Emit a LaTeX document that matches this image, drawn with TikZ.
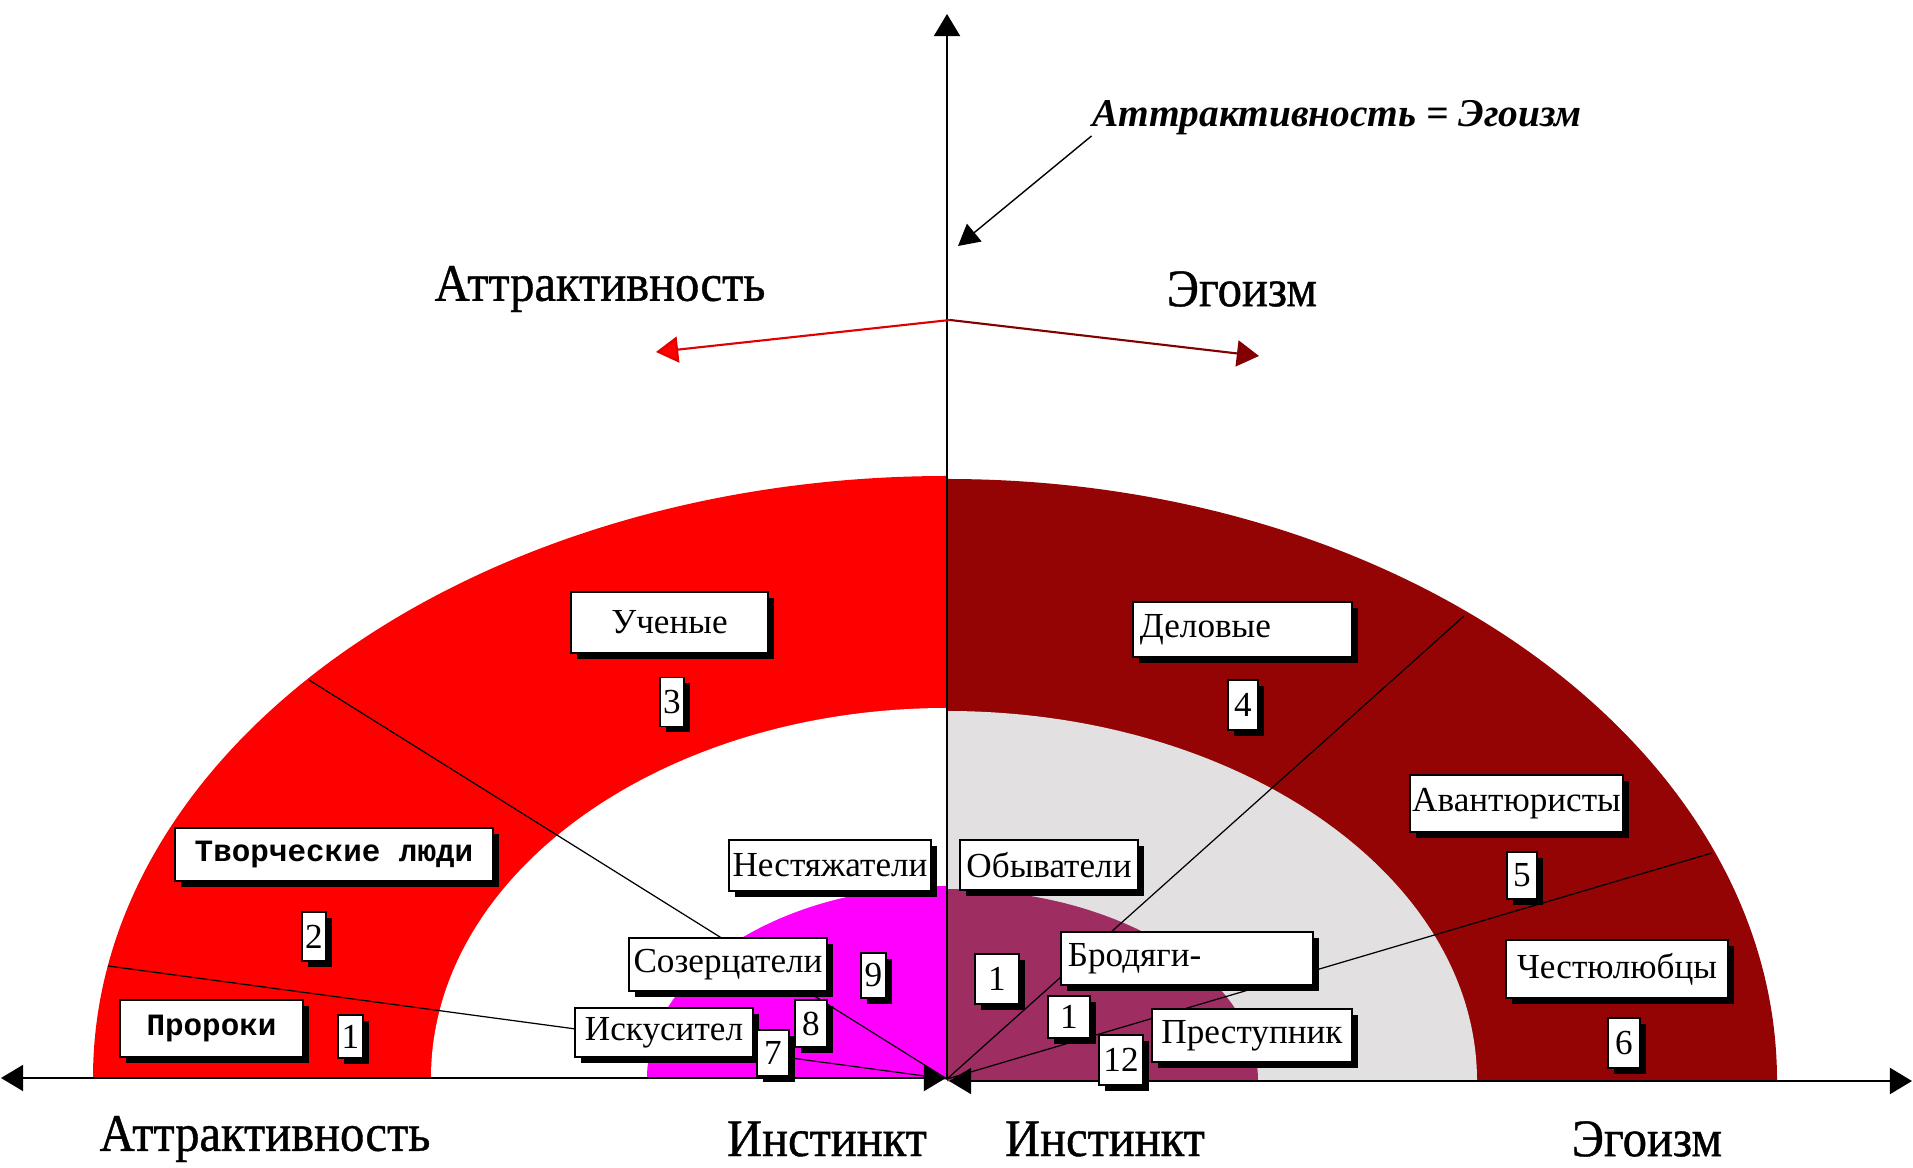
\documentclass[tikz,border=0pt]{standalone}
\usepackage{fontspec}
\setmainfont{Liberation Serif}
\setmonofont{Liberation Mono}
\newfontfamily\axisfont{Liberation Serif}[FakeStretch=0.92, FakeBold=0.8]
\usetikzlibrary{arrows.meta,shadows}

\definecolor{sectred}{RGB}{255,0,0}
\definecolor{sectdark}{RGB}{148,4,4}
\definecolor{sectgrey}{RGB}{226,224,224}
\definecolor{sectmag}{RGB}{255,0,255}
\definecolor{sectplum}{RGB}{158,45,98}
\definecolor{arrred}{RGB}{225,0,0}
\definecolor{arrdark}{RGB}{130,0,0}

\tikzset{
  tag/.style={draw=black, fill=white, line width=0.4pt, inner sep=0pt,
    font=\fontsize{10}{12}\selectfont,
    drop shadow={shadow xshift=1.6pt, shadow yshift=-1.6pt, fill=black, opacity=1}},
  montag/.style={tag, font=\ttfamily\bfseries\fontsize{8.8}{10}\selectfont},
  lefttag/.style={tag, inner xsep=0.07cm, align=left},
  axislbl/.style={inner sep=0pt, font=\axisfont\fontsize{15}{17}\selectfont},
  border/.style={black, line width=0.35pt},
  axtip/.tip={Triangle[length=6.3pt, width=7.4pt]},
  axisline/.style={black, line width=0.6pt},
}

\begin{document}
\begin{tikzpicture}[x=0.01cm, y=-0.01cm]
  % Fix the page size
  \useasboundingbox[fill=white] (0,0) rectangle (1913,1168);
  \coordinate (ctr) at (947,1079);

  % Draw the outer ring
  \fill[sectred] (947,1078) -- (93,1078)
    arc[start angle=180, end angle=270, x radius=854, y radius=602] -- cycle;
  \fill[sectdark] (947,1081) -- (1777,1081)
    arc[start angle=0, end angle=-90, x radius=830, y radius=602] -- cycle;
  % Draw the middle ring
  \fill[white] (947,1078) -- (431,1078)
    arc[start angle=180, end angle=270, x radius=516, y radius=370] -- cycle;
  \fill[sectgrey] (947,1081) -- (1477,1081)
    arc[start angle=0, end angle=-90, x radius=530, y radius=370] -- cycle;
  % Draw the inner ring
  \fill[sectmag] (947,1078) -- (647,1078)
    arc[start angle=180, end angle=270, x radius=300, y radius=192] -- cycle;
  \fill[sectplum] (947,1081) -- (1258,1081)
    arc[start angle=0, end angle=-90, x radius=311, y radius=192] -- cycle;

  % Draw the sector borders
  \coordinate (bordlow) at (108,966);
  \coordinate (bordhigh) at (309,680);
  \coordinate (bordup) at (1464,616);
  \coordinate (borddown) at (1712,853);
  \draw[border] (ctr) -- (bordlow);
  \draw[border] (ctr) -- (bordhigh);
  \draw[border] (ctr) -- (bordup);
  \draw[border] (ctr) -- (borddown);

  % Draw axes
  \coordinate (ytop) at (947,14);
  \coordinate (xleft) at (1,1078);
  \coordinate (xmidl) at (946,1078);
  \coordinate (xmidr) at (949,1081);
  \coordinate (xright) at (1912,1081);
  \draw[axisline, -axtip] (ctr) -- (ytop);
  \draw[axisline, axtip-axtip] (xleft) -- (xmidl);
  \draw[axisline, axtip-axtip] (xmidr) -- (xright);

  % Draw the two red arrows
  \coordinate (peak) at (950,320);
  \coordinate (attip) at (656,352);
  \coordinate (egtip) at (1259,356);
  \draw[arrred, line width=0.6pt, -{Triangle[length=6.3pt, width=7.4pt, fill=sectred]}] (peak) -- (attip);
  \draw[arrdark, line width=0.6pt, -axtip] (peak) -- (egtip);

  % Axis labels
  \node[axislbl] (atttop) at (600,289) {Аттрактивность};
  \node[axislbl] (egotop) at (1242,289) {Эгоизм};
  \node[axislbl] (attbot) at (265,1139) {Аттрактивность};
  \node[axislbl] (instl) at (827,1139) {Инстинкт};
  \node[axislbl] (instr) at (1105,1139) {Инстинкт};
  \node[axislbl] (egobot) at (1647,1139) {Эгоизм};
  \node[inner sep=0pt, font=\bfseries\itshape\fontsize{11.2}{14}\selectfont] (eqlbl) at (1337,118)
    {Аттрактивность = Эгоизм};
  \coordinate (eqtip) at (958,246);
  \draw[black, line width=0.4pt, -{Triangle[length=6pt, width=6.5pt]}] (eqlbl.south west) -- (eqtip);

  % Outer sector labels
  \node[montag, minimum width=1.83cm, minimum height=0.57cm] (proroki) at (211.5,1028.5) {Пророки};
  \node[tag, minimum width=0.25cm, minimum height=0.43cm] (n1) at (350.5,1036.5) {1};
  \node[montag, minimum width=3.18cm, minimum height=0.53cm] (tvorch) at (334,854.5) {Творческие люди};
  \node[tag, minimum width=0.24cm, minimum height=0.49cm] (n2) at (314,936.5) {2};
  \node[tag, minimum width=1.97cm, minimum height=0.61cm] (uchen) at (669.5,622.5) {Ученые};
  \node[tag, minimum width=0.24cm, minimum height=0.49cm] (n3) at (672,702) {3};
  \node[lefttag, text width=2.05cm, minimum height=0.55cm] (delov) at (1242.5,629.5) {Деловые};
  \node[tag, minimum width=0.30cm, minimum height=0.50cm] (n4) at (1243,705) {4};
  \node[tag, minimum width=2.13cm, minimum height=0.57cm] (avant) at (1516.5,803.5) {Авантюристы};
  \node[tag, minimum width=0.30cm, minimum height=0.47cm] (n5) at (1522,875.5) {5};
  \node[tag, minimum width=2.22cm, minimum height=0.58cm] (chest) at (1617,969) {Честюлюбцы};
  \node[tag, minimum width=0.32cm, minimum height=0.50cm] (n6) at (1624,1043) {6};

  % Inner sector labels
  \node[tag, minimum width=2.02cm, minimum height=0.51cm] (nestyazh) at (830,865.5) {Нестяжатели};
  \node[tag, minimum width=1.98cm, minimum height=0.53cm] (sozerc) at (728,964.5) {Созерцатели};
  \node[tag, minimum width=0.25cm, minimum height=0.45cm] (n9) at (873.5,975.5) {9};
  \node[tag, minimum width=0.32cm, minimum height=0.47cm] (n8) at (811,1023.5) {8};
  \node[tag, minimum width=1.78cm, minimum height=0.49cm] (iskus) at (664,1032.5) {Искусител};
  \node[tag, minimum width=0.32cm, minimum height=0.46cm] (n7) at (773,1053) {7};
  \node[tag, minimum width=1.78cm, minimum height=0.50cm] (obyv) at (1049,865) {Обыватели};
  \node[tag, minimum width=0.44cm, minimum height=0.50cm] (n10) at (997,979) {1};
  \node[lefttag, text width=2.38cm, minimum height=0.53cm] (brod) at (1187,958.5) {Бродяги-};
  \node[tag, minimum width=0.42cm, minimum height=0.42cm] (n11) at (1069,1017) {1};
  \node[tag, minimum width=0.44cm, minimum height=0.50cm] (n12) at (1121,1060) {12};
  \node[tag, minimum width=2.00cm, minimum height=0.53cm] (prest) at (1252,1035.5) {Преступник};
\end{tikzpicture}
\end{document}
